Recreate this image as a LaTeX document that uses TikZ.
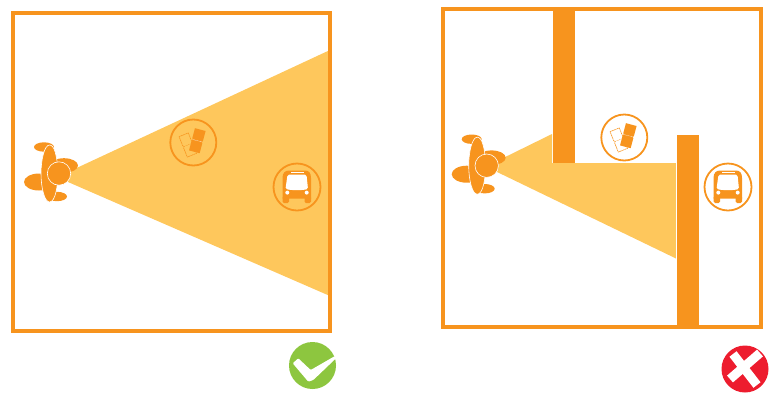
\documentclass[tikz,border=0pt]{standalone}
\definecolor{signorange}{HTML}{F7941E}
\definecolor{conelight}{HTML}{FEC75C}
\definecolor{okgreen}{HTML}{8DC63F}
\definecolor{badred}{HTML}{ED1C2E}
\tikzset{frame/.style={draw=signorange,line width=4.6pt},
  cone/.style={fill=conelight},
  wall/.style={fill=signorange,draw=white,line width=.5pt},
  part/.style={fill=signorange,draw=white,line width=.6pt},
  badge/.style={draw=signorange,line width=1.8pt},
  crossbar/.style={draw=white,line width=9pt},
  ticketline/.style={line width=.3pt,dash pattern=on .9pt off .6pt},
  pics/person/.style={code={
    \fill[signorange] (-15,-26.5) ellipse (10 and 4.7);
    \fill[signorange] (-20,8.5) ellipse (15 and 8.5);
    \fill[signorange] (5,-8) ellipse (14 and 7.3);
    \fill[signorange] (-2,23) ellipse (10 and 4.7);
    \path[part] (-9.5,-28.5) .. controls (-4.5,-28.5) and (-2,-18) .. (-1,-2) .. controls (-1,12) and (-3.5,28.5) .. (-9.5,28.5) .. controls (-14.5,28.5) and (-18,14) .. (-18,0) .. controls (-18,-14) and (-14.5,-28.5) .. (-9.5,-28.5) -- cycle;
    \path[part] (0,0) circle (11.7);
  }},
  pics/tickets/.style={code={
    \begin{scope}[shift={(-5.5,2.5)},rotate=22]
      \draw[signorange,line width=.6pt,dash pattern=on 1.4pt off .5pt] (-5,-11)--(5,-11)--(5,-1.2)--(4,0)--(5,1.2)--(5,11)--(-5,11)--(-5,1.2)--(-4,0)--(-5,-1.2)--cycle;
      \draw[signorange,ticketline] (-4,0)--(4,0);
    \end{scope}
    \begin{scope}[shift={(4,-1.8)},rotate=-15]
      \fill[signorange] (-5.5,-11.5)--(5.5,-11.5)--(5.5,-1.2)--(4.7,0)--(5.5,1.2)--(5.5,11.5)--(-5.5,11.5)--(-5.5,1.2)--(-4.7,0)--(-5.5,-1.2)--cycle;
      \draw[white,ticketline] (-4.7,0)--(4.7,0);
    \end{scope}
    \draw[badge] (0,0) circle (23);
  }},
  pics/bus/.style={code={
    \fill[signorange] (-14.5,11.5)--(-14.5,-9) .. controls (-14.5,-14) and (-12,-16.5) .. (-8,-16.5)--(8,-16.5) .. controls (12,-16.5) and (14,-14) .. (14,-9)--(14,11.5)--cycle;
    \fill[signorange,rounded corners=1.5pt] (-14.5,9) rectangle (-8,16);
    \fill[signorange,rounded corners=1.5pt] (7.5,9) rectangle (14,16);
    \fill[white,rounded corners=1.5pt] (-9.5,-12.3)--(9.5,-12.3)--(11,2)--(6,3)--(-6,3)--(-11.5,2)--cycle;
    \fill[white] (-6.5,-15.2) rectangle (6.5,-13.6);
    \fill[white] (-9.7,5.6) circle (2);
    \fill[white] (9.7,5.6) circle (2);
    \draw[badge] (0,0) circle (23.5);
  }}}
\begin{document}
\begin{tikzpicture}[x=1pt,y=-1pt]
\useasboundingbox (0,0) rectangle (774,392);
% clear view
\fill[cone] (330,50)--(68,172)--(68,182)--(330,296)--cycle;
\draw[frame] (13,13) rectangle (330,331);
\pic at (59,173.5) {person};
\pic at (193.3,142.5) {tickets};
\pic at (297,187) {bus};
% blocked view
\fill[cone] (552,134)--(495,162)--(495,171)--(676,258.5)--(676,163)--(552,163)--cycle;
\draw[frame] (443,9) rectangle (761,327);
\fill[white] (552.5,11) rectangle (575,163);
\fill[white] (676,134.5) rectangle (699.5,325);
\fill[signorange] (553,7) rectangle (574.5,162.5);
\fill[signorange] (676.5,135) rectangle (699,329);
\pic at (486.7,165.7) {person};
\pic at (624.3,137.5) {tickets};
\pic at (728,187) {bus};
% verdicts
\fill[okgreen] (312.5,365.5) circle (23.5);
\fill[white,rounded corners=1pt] (292.7,363.3)--(298.3,358.3)--(310.7,370)--(335,356)--(336,358.3)--(313.3,380)--(308.3,381.7)--cycle;
\fill[badred] (745,369) circle (23.5);
\draw[crossbar] (733,354)--(757,385);
\draw[crossbar] (760,353)--(730,379);
\end{tikzpicture}
\end{document}
